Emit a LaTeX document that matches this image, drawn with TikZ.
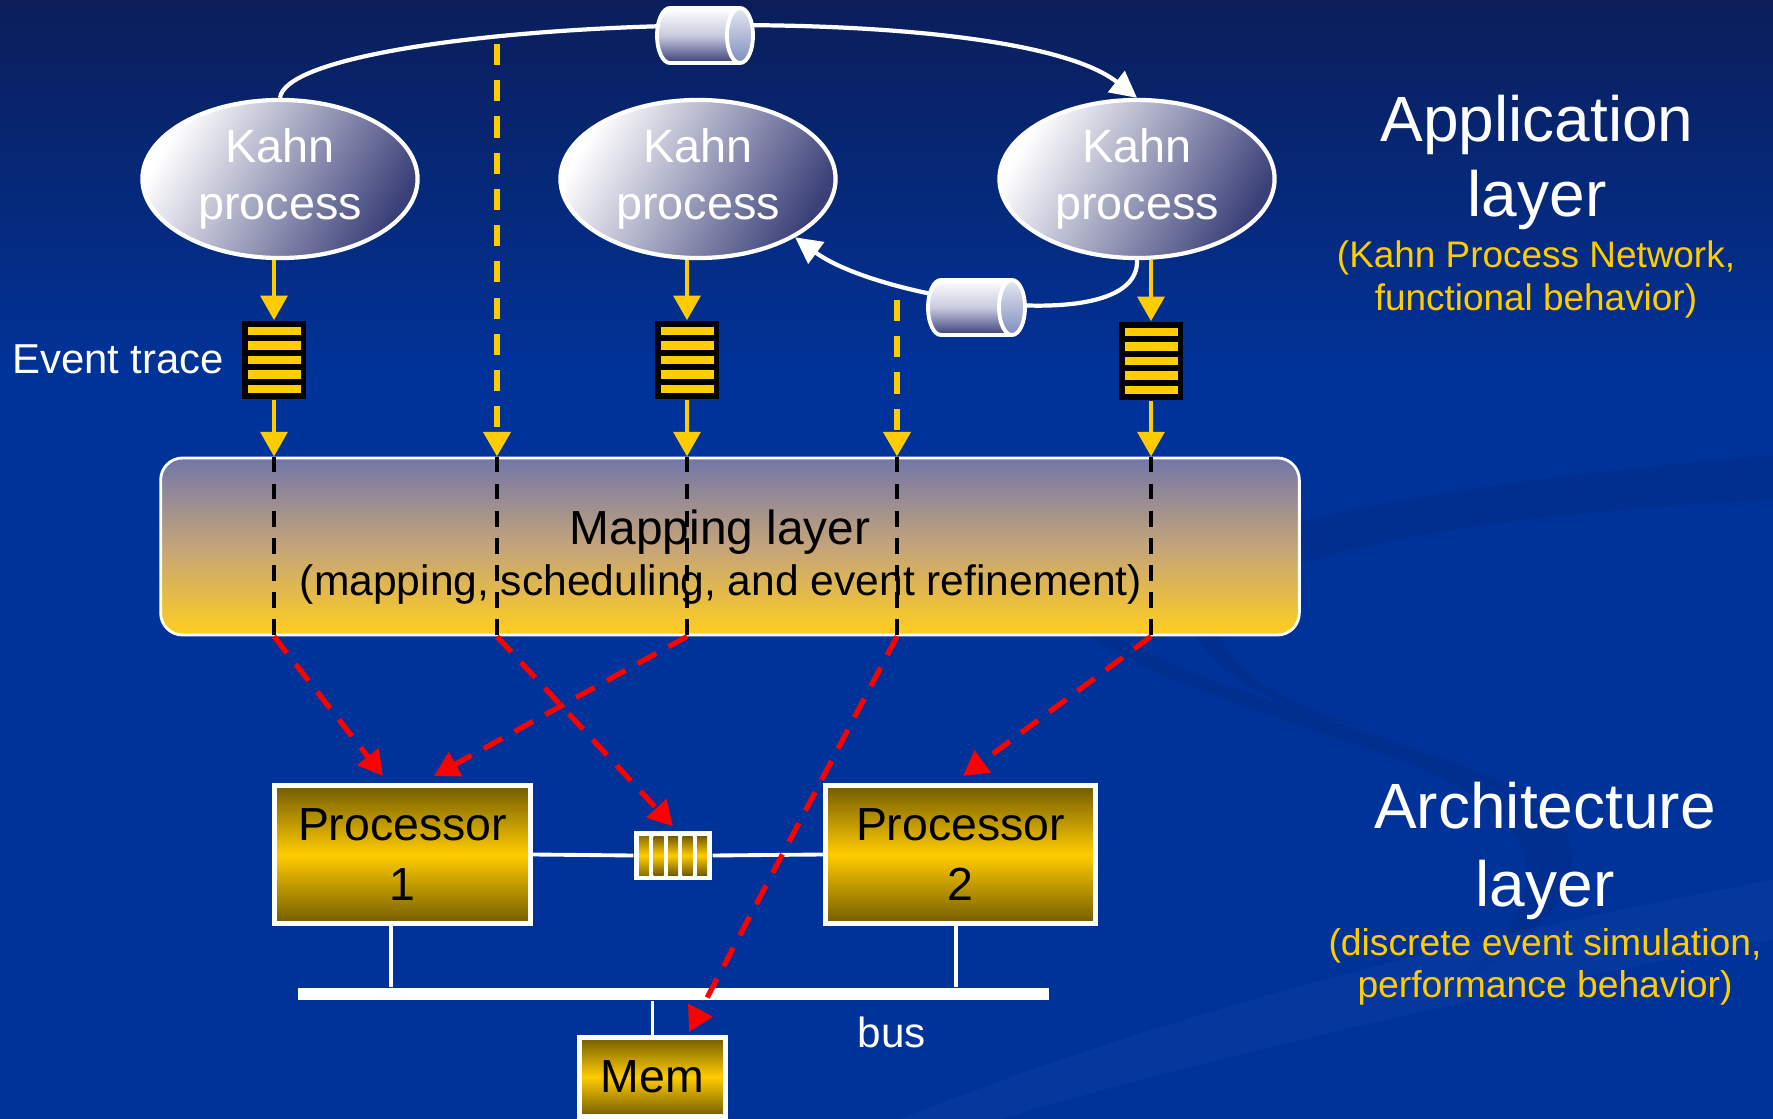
\documentclass[tikz,border=0pt]{standalone}
\usepackage{fontspec}
\setmainfont{Liberation Sans}
\usetikzlibrary{arrows.meta,shapes.geometric}
\definecolor{bgtop}{HTML}{0B1E5A}
\definecolor{bgblue}{HTML}{003399}
\definecolor{swdark}{HTML}{002C88}
\definecolor{swlight}{HTML}{0A3CA2}
\definecolor{kahndark}{HTML}{3B4078}
\definecolor{gold}{HTML}{FFCC00}
\definecolor{olive}{HTML}{735B00}
\definecolor{mapTop}{HTML}{7276A8}
\definecolor{mapMid}{HTML}{C4A47A}
\definecolor{mapBot}{HTML}{FFCE1E}
\definecolor{cylDark}{HTML}{3A3E7A}
\definecolor{cylMid}{HTML}{C9CBDD}
\definecolor{faceLight}{HTML}{E4E7F2}
\definecolor{faceDark}{HTML}{7F8DBE}
\pgfdeclareverticalshading{bgshade}{100bp}{color(0bp)=(bgblue); color(25bp)=(bgblue); color(58bp)=(bgblue); color(75bp)=(bgtop); color(100bp)=(bgtop)}
\newcommand\mycyl[3]{%
  \shade[top color=white,bottom color=cylDark,middle color=cylMid] (#2,#3-27.5) -- (#1,#3-27.5)
    arc[start angle=90,end angle=270,x radius=0.13cm,y radius=0.275cm] -- (#2,#3+27.5)
    arc[start angle=-90,end angle=90,x radius=0.13cm,y radius=0.275cm] -- cycle;
  \draw[white,line width=1.1pt] (#2,#3-27.5) -- (#1,#3-27.5)
    arc[start angle=90,end angle=270,x radius=0.13cm,y radius=0.275cm] -- (#2,#3+27.5);
  \shade[top color=faceLight,bottom color=faceDark] (#2,#3) ellipse[x radius=0.13cm,y radius=0.275cm];
  \draw[white,line width=1.1pt] (#2,#3) ellipse[x radius=0.13cm,y radius=0.275cm];
}
\begin{document}
\begin{tikzpicture}[x=0.01cm,y=-0.01cm,
  kahn/.style={ellipse,draw=white,line width=1.2pt,top color=white,bottom color=kahndark,
    shading angle=60,minimum width=2.75cm,minimum height=1.58cm,inner sep=0pt,align=center,
    text=white,font=\fontsize{13.3pt}{16.2pt}\selectfont},
  trace/.style={rectangle,fill=black,minimum width=0.63cm,minimum height=0.78cm,inner sep=0pt,
    path picture={\foreach \d in {-29,-14.5,0,14.5,29}{\fill[gold] (path picture bounding box.center) ++(-26.5,\d-4.3) rectangle ++(53,8.6);}}},
  fifobox/.style={rectangle,fill=white,minimum width=0.78cm,minimum height=0.49cm,inner sep=0pt,
    path picture={\foreach \d in {-29,-14.5,0,14.5,29}{\shade[top color=olive,bottom color=olive,middle color=gold] (path picture bounding box.center) ++(\d-5,-19.5) rectangle ++(10,39);}}},
  proc/.style={rectangle,draw=white,line width=1.4pt,top color=olive,bottom color=olive,middle color=gold,
    inner sep=0pt,align=center,text=black,font=\fontsize{13.2pt}{16.8pt}\selectfont},
  yarrow/.style={draw=gold,line width=1.4pt,-{Triangle[length=7pt,width=7.5pt]}},
  ydash/.style={yarrow,line width=1.7pt,dash pattern=on 6pt off 4.3pt},
  kdash/.style={draw=black,line width=1.1pt,dash pattern=on 4.5pt off 3.2pt},
  rdash/.style={draw=red,line width=1.5pt,dash pattern=on 6pt off 4pt,-{Triangle[length=7pt,width=7.5pt]}},
  warc/.style={draw=white,line width=1.2pt,-{Triangle[length=7.5pt,width=7.5pt]}},
  wline/.style={draw=white,line width=1.1pt},
  whitetext/.style={text=white,inner sep=0pt},
  yeltext/.style={text=gold,inner sep=0pt}
]
\useasboundingbox (0,0) rectangle (1773,1119);
% background
\shade[shading=bgshade] (0,0) rectangle (1773,1119);
% swooshes
\fill[swdark,opacity=0.55] (1060,540) .. controls (1020,650) and (1300,700) .. (1500,780)
  .. controls (1620,830) and (1580,920) .. (1450,990)
  .. controls (1560,900) and (1560,820) .. (1400,760)
  .. controls (1200,690) and (1000,640) .. (1060,540) -- cycle;
\fill[swdark,opacity=0.55] (1200,560) .. controls (1300,500) and (1600,470) .. (1773,455)
  -- (1773,500) .. controls (1550,510) and (1300,540) .. (1230,600)
  .. controls (1190,640) and (1260,700) .. (1360,725)
  .. controls (1230,705) and (1150,620) .. (1200,560) -- cycle;
\fill[swlight,opacity=0.5] (900,1119) .. controls (1200,1000) and (1500,930) .. (1773,880)
  -- (1773,940) .. controls (1500,990) and (1200,1060) .. (1000,1119) -- cycle;

% Kahn processes
\node[kahn] (k1) at (280,179) {Kahn\\process};
\node[kahn] (k2) at (698,179) {Kahn\\process};
\node[kahn] (k3) at (1137,179) {Kahn\\process};

% channels
\draw[warc] (k1.north) .. controls (290,20) and (1000,-10) .. (k3.north);
\draw[warc] (k3.south) .. controls (1140,340) and (880,300) .. (k2.-31);
\mycyl{670}{740}{35.5}
\mycyl{941}{1012}{307.5}

% event traces
\node[trace] (t1) at (274,360) {};
\node[trace] (t2) at (687,360) {};
\node[trace] (t3) at (1151,361) {};
\node[whitetext,anchor=base,font=\fontsize{11.9pt}{14pt}\selectfont] (evt) at (118,374) {Event trace};

% mapping layer
\node[rectangle,rounded corners=0.22cm,draw=white,line width=0.8pt,top color=mapTop,bottom color=mapBot,
  middle color=mapMid,minimum width=11.38cm,minimum height=1.77cm,inner sep=0pt] (map) at (730,546.5) {};
\node[anchor=base,inner sep=0pt,font=\fontsize{13.6pt}{16pt}\selectfont] (maptitle) at (720,545) {Mapping layer};
\node[anchor=base,inner sep=0pt,font=\fontsize{12.1pt}{14pt}\selectfont] (mapsub) at (721,596) {(mapping, scheduling, and event refinement)};

\coordinate (ys1) at (497,44);
\coordinate (ys2) at (897,300);

% yellow arrows
\draw[yarrow] (t1.north |- k1.south) -- (t1.north);
\draw[yarrow] (t2.north |- k2.south) -- (t2.north);
\draw[yarrow] (t3.north |- k3.south) -- (t3.north);
\draw[yarrow] (t1.south) -- (t1.south |- map.north);
\draw[yarrow] (t2.south) -- (t2.south |- map.north);
\draw[yarrow] (t3.south) -- (t3.south |- map.north);
\draw[ydash] (ys1) -- (ys1 |- map.north);
\draw[ydash] (ys2) -- (ys2 |- map.north);

% black dashed through mapping layer
\draw[kdash] (t1 |- map.north) -- (t1 |- map.south);
\draw[kdash] (ys1 |- map.north) -- (ys1 |- map.south);
\draw[kdash] (t2 |- map.north) -- (t2 |- map.south);
\draw[kdash] (ys2 |- map.north) -- (ys2 |- map.south);
\draw[kdash] (t3 |- map.north) -- (t3 |- map.south);

% architecture
\node[proc,minimum width=2.56cm,minimum height=1.38cm] (p1) at (402.5,854.5) {Processor\\1};
\node[proc,minimum width=2.70cm,minimum height=1.38cm] (p2) at (960.5,854.5) {Processor\\2};
\node[fifobox] (fifo) at (673,855.5) {};
\node[rectangle,fill=white,minimum width=7.51cm,minimum height=0.12cm,inner sep=0pt] (bus) at (673.5,994) {};
\node[proc,minimum width=1.46cm,minimum height=0.79cm] (mem) at (652.5,1077) {Mem};
\node[whitetext,anchor=base,font=\fontsize{12pt}{14pt}\selectfont] (buslbl) at (892,1047) {bus};

\draw[wline] (p1.east) -- (fifo.west);
\draw[wline] (fifo.east) -- (p2.west);
\path (p1.south) ++(-11.5,0) coordinate (p1b);
\path (p2.south) ++(-4.5,0) coordinate (p2b);
\draw[wline] (p1b) -- (p1b |- bus.north);
\draw[wline] (p2b) -- (p2b |- bus.north);
\draw[wline] (mem.north) -- (mem.north |- bus.south);

% red mapping arrows
\draw[rdash] (t1 |- map.south) -- ([xshift=-0.195cm,yshift=0.07cm]p1.north);
\draw[rdash] (t2 |- map.south) -- ([xshift=0.315cm,yshift=0.07cm]p1.north);
\draw[rdash] (ys1 |- map.south) -- ([yshift=0.04cm]fifo.north);
\draw[rdash] (ys2 |- map.south) -- ([xshift=0.365cm,yshift=0.03cm]mem.north);
\draw[rdash] (t3 |- map.south) -- ([xshift=0.025cm,yshift=0.07cm]p2.north);

% layer labels
\node[whitetext,anchor=base,font=\fontsize{18.2pt}{21pt}\selectfont] (app1) at (1537,142) {Application};
\node[whitetext,anchor=base,font=\fontsize{18.2pt}{21pt}\selectfont] (app2) at (1537,217) {layer};
\node[yeltext,anchor=base,font=\fontsize{10.5pt}{12pt}\selectfont] (app3) at (1536,268) {(Kahn Process Network,};
\node[yeltext,anchor=base,font=\fontsize{10.5pt}{12pt}\selectfont] (app4) at (1536,311) {functional behavior)};
\node[whitetext,anchor=base,font=\fontsize{18.2pt}{21pt}\selectfont] (arch1) at (1545,828) {Architecture};
\node[whitetext,anchor=base,font=\fontsize{18.2pt}{21pt}\selectfont] (arch2) at (1545,906) {layer};
\node[yeltext,anchor=base,font=\fontsize{10.6pt}{12pt}\selectfont] (arch3) at (1545,955) {(discrete event simulation,};
\node[yeltext,anchor=base,font=\fontsize{10.6pt}{12pt}\selectfont] (arch4) at (1545,997) {performance behavior)};
\end{tikzpicture}
\end{document}
